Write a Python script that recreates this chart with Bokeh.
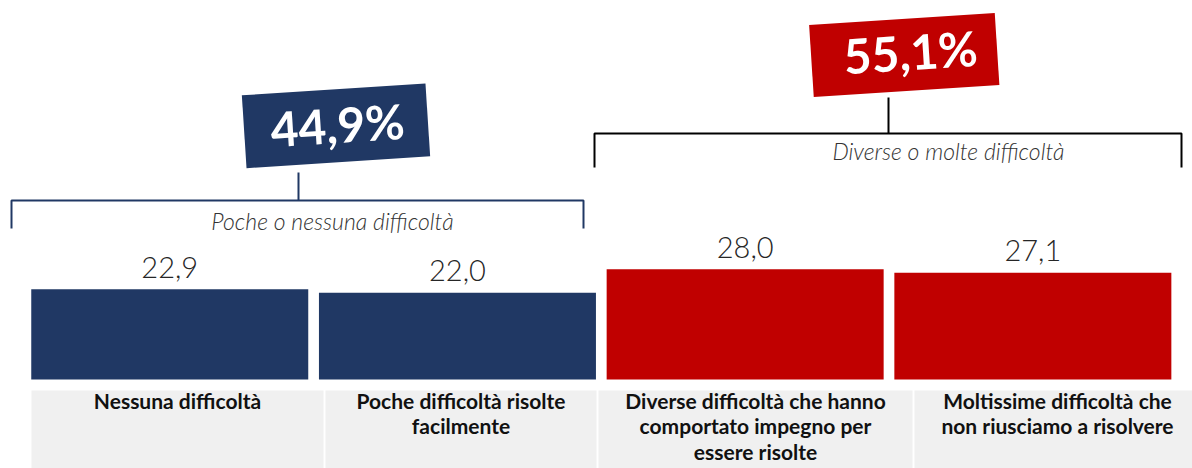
import math
from bokeh.plotting import figure
from bokeh.models import Range1d
from bokeh.core.properties import value
from bokeh.embed import file_html
from bokeh.resources import INLINE

# ---------------- data ----------------
categories = [
    "Nessuna difficoltà",
    "Poche difficoltà risolte\nfacilmente",
    "Diverse difficoltà che hanno\ncomportato impegno per\nessere risolte",
    "Moltissime difficoltà che\nnon riusciamo a risolvere",
]
values = [22.9, 22.0, 28.0, 27.1]
group_names = ["Poche o nessuna difficoltà", "Diverse o molte difficoltà"]
group_of_bar = [0, 0, 1, 1]
group_colors = ["#203864", "#C00000"]
bracket_colors = ["#203864", "#000000"]


def fmt_it(v, suffix=""):
    return f"{v:.1f}".replace(".", ",") + suffix


value_labels = [fmt_it(v) for v in values]
group_totals = [fmt_it(sum(v for v, g in zip(values, group_of_bar) if g == k), "%")
                for k in range(len(group_names))]

# ---------------- layout (page pixels) ----------------
PAGE_OFF = 0
W, H = 1192, 468
X0, DX = 169.25, 287.7      # pixel centre of first bar, spacing
Y0, DY = 379.0, 3.94        # pixel of value 0, pixels per unit


def px2x(px):
    return (px - X0) / DX


def px2y(py):
    return (Y0 - py) / DY


p = figure(width=W, height=H, output_backend="svg", toolbar_location=None,
           x_axis_location=None, y_axis_location=None,
           x_range=Range1d(px2x(PAGE_OFF), px2x(PAGE_OFF + W)),
           y_range=Range1d(px2y(PAGE_OFF + H), px2y(PAGE_OFF)),
           min_border=0, background_fill_color="white",
           border_fill_color="white", tools="")
p.outline_line_color = None
p.grid.visible = False

idx = list(range(len(values)))
colors = [group_colors[g] for g in group_of_bar]

# bars
p.vbar(x=idx, top=values, bottom=0, width=277 / DX, fill_color=colors,
       line_color=None)

# value labels (centred ~22 px above the bar top)
p.text(x=idx, y=[v + 22 / DY for v in values], text=value_labels,
       text_align="center", text_baseline="middle",
       text_font=value("Lato Light"), text_font_size="29px",
       text_color="#262626")

# category cells
cell_edges = [(31, 323), (325, 596), (598, 912), (914, 1200)]
p.quad(left=[px2x(a) for a, b in cell_edges], right=[px2x(b) for a, b in cell_edges],
       top=px2y(390), bottom=px2y(480), fill_color="#F0F0F0", line_color=None)
p.text(x=[px2x((a + b) / 2) for a, b in cell_edges], y=px2y(387), text=categories,
       text_align="center", text_baseline="top", text_font=value("Lato"),
       text_font_style="bold", text_font_size="21px", text_color="#111111",
       text_line_height=1.03)

# brackets, group labels and total boxes
brackets = [
    dict(x1=11, x2=583, y=200, tick=228, stem_x=298, stem_top=172,
         label_x=332, label_y=220,
         box_c=(335.5, 125.3), box_w=184, box_h=73, txt_c=(337, 124)),
    dict(x1=594, x2=1181, y=133, tick=167, stem_x=888, stem_top=97,
         label_x=948, label_y=150,
         box_c=(903.75, 54.5), box_w=186, box_h=72, txt_c=(910, 51)),
]
ang = math.radians(3.7)
for k, b in enumerate(brackets):
    c = bracket_colors[k]
    p.line([px2x(b["x1"]), px2x(b["x1"]), px2x(b["x2"]), px2x(b["x2"])],
           [px2y(b["tick"]), px2y(b["y"]), px2y(b["y"]), px2y(b["tick"])],
           line_color=c, line_width=2)
    p.line([px2x(b["stem_x"])] * 2, [px2y(b["stem_top"]), px2y(b["y"])],
           line_color=c, line_width=2)
    p.text(x=[px2x(b["label_x"])], y=[px2y(b["label_y"])], text=[group_names[k]],
           text_align="center", text_baseline="middle",
           text_font=value("Lato Light"), text_font_style="italic",
           text_font_size="23px", text_color="#333333")
    p.rect(x=[px2x(b["box_c"][0])], y=[px2y(b["box_c"][1])],
           width=b["box_w"], height=b["box_h"], width_units="screen",
           height_units="screen", angle=ang, fill_color=group_colors[k],
           line_color=None)
    p.text(x=[px2x(b["txt_c"][0])], y=[px2y(b["txt_c"][1])], text=[group_totals[k]],
           angle=ang, text_align="center", text_baseline="middle",
           text_font=value("Lato"), text_font_style="bold",
           text_font_size="48px", text_color="white")

open("out.html", "w").write(file_html(p, INLINE))
